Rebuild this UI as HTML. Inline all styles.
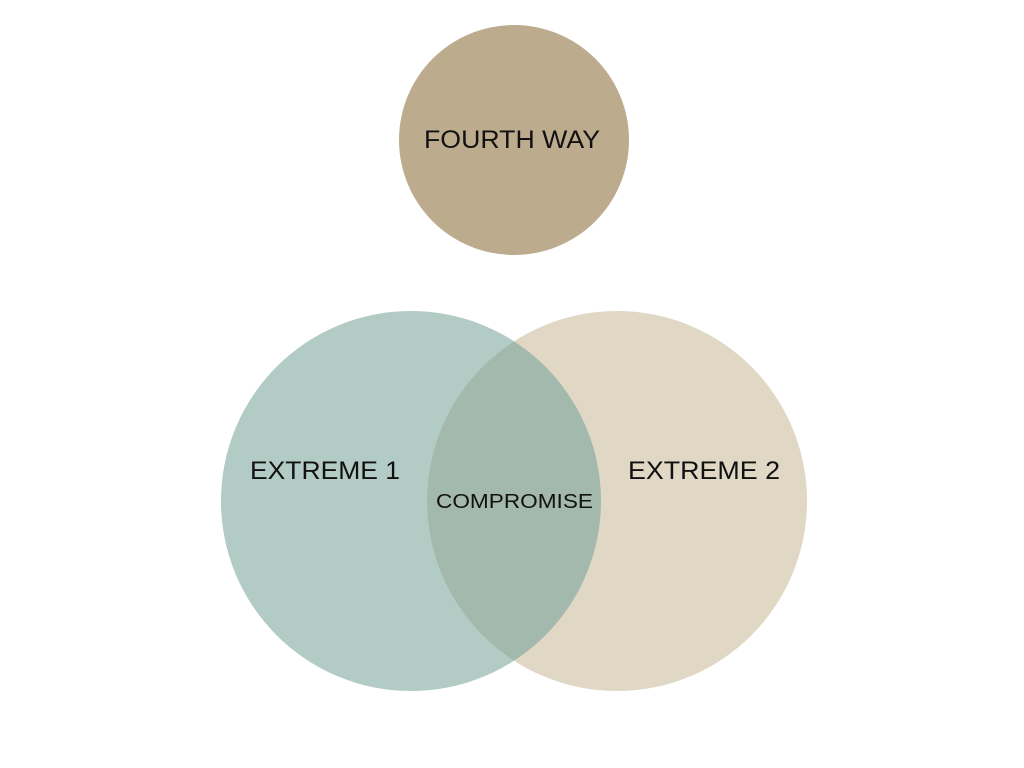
<!DOCTYPE html>
<html><head><meta charset="utf-8"><style>
html,body{margin:0;padding:0;background:#fff;}
svg{display:block;}
text{font-family:"Liberation Sans",sans-serif;fill:#111;}
</style></head><body>
<svg width="1024" height="768" viewBox="0 0 1024 768">
<defs><clipPath id="c"><circle cx="411" cy="501" r="190"/></clipPath></defs>
<circle cx="514" cy="140" r="115" fill="#bdab8d"/>
<circle cx="411" cy="501" r="190" fill="#b2cbc4"/>
<circle cx="617" cy="501" r="190" fill="#e0d7c4"/>
<circle cx="617" cy="501" r="190" fill="#a3b9ad" clip-path="url(#c)"/>
<text x="424" y="148" font-size="25" textLength="176" lengthAdjust="spacingAndGlyphs">FOURTH WAY</text>
<text x="250" y="479" font-size="25" textLength="150" lengthAdjust="spacingAndGlyphs">EXTREME 1</text>
<text x="628" y="479" font-size="25" textLength="152" lengthAdjust="spacingAndGlyphs">EXTREME 2</text>
<text x="436" y="508" font-size="20" textLength="157" lengthAdjust="spacingAndGlyphs">COMPROMISE</text>
</svg>
</body></html>
